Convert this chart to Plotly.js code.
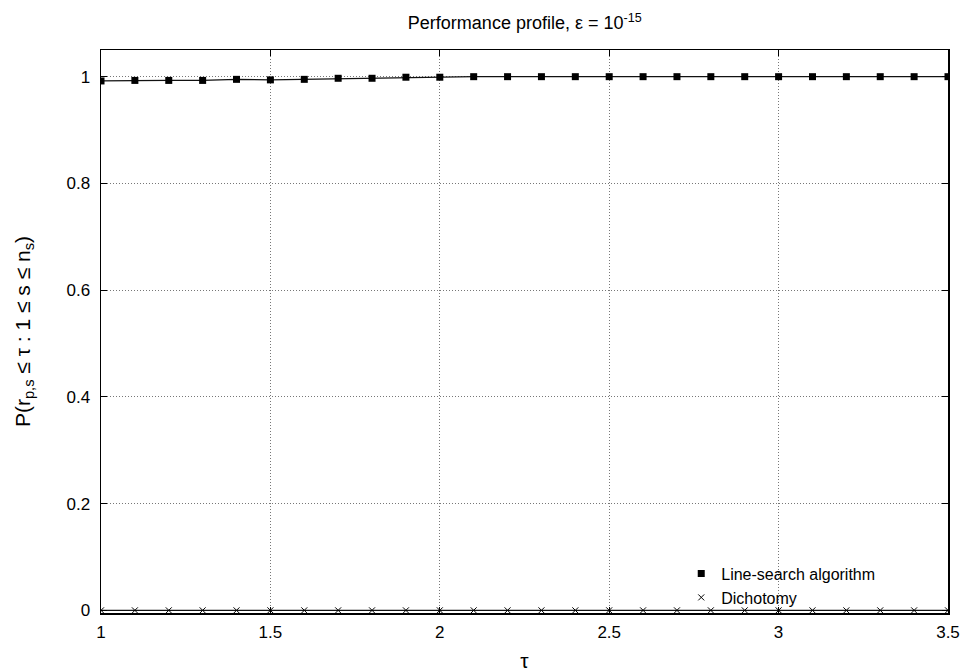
<!DOCTYPE html>
<html>
<head>
<meta charset="utf-8">
<script src="https://cdn.plot.ly/plotly-3.0.1.min.js"></script>
<style>
  html, body { margin: 0; padding: 0; background: #fff; }
  #chart { width: 970px; height: 672px; }
</style>
</head>
<body>
<div id="chart"></div>
<script>
// Performance profile values, sampled at tau = 1.0, 1.1, ..., 3.5
const tau = [1.0, 1.1, 1.2, 1.3, 1.4, 1.5, 1.6, 1.7, 1.8, 1.9, 2.0, 2.1, 2.2,
             2.3, 2.4, 2.5, 2.6, 2.7, 2.8, 2.9, 3.0, 3.1, 3.2, 3.3, 3.4, 3.5];
const lineSearch = [0.992, 0.993, 0.993, 0.993, 0.995, 0.994, 0.995, 0.997, 0.997,
                    0.999, 0.999, 1, 1, 1, 1, 1, 1, 1, 1, 1, 1, 1, 1, 1, 1, 1];
const dichotomy = [0, 0, 0, 0, 0, 0, 0, 0, 0, 0, 0, 0, 0,
                   0, 0, 0, 0, 0, 0, 0, 0, 0, 0, 0, 0, 0];
const seriesNames = ['Line-search algorithm', 'Dichotomy'];
const xTicks = [1, 1.5, 2, 2.5, 3, 3.5];
const yTicks = [0, 0.2, 0.4, 0.6, 0.8, 1];

const FONT = 'Liberation Sans, Arial, Helvetica, sans-serif';

// Each series: a connecting line (kept out of the key) plus its point markers.
const traces = [
  {
    x: tau, y: lineSearch, type: 'scatter', mode: 'lines', showlegend: false,
    hoverinfo: 'skip', line: {color: '#111', width: 1.2}
  },
  {
    x: tau, y: dichotomy, type: 'scatter', mode: 'lines', showlegend: false,
    hoverinfo: 'skip', line: {color: '#111', width: 1.2}
  },
  {
    x: tau, y: lineSearch, name: seriesNames[0],
    type: 'scatter', mode: 'markers',
    marker: {symbol: 'square', size: 7, color: '#000'}
  },
  {
    x: tau, y: dichotomy, name: seriesNames[1],
    type: 'scatter', mode: 'markers',
    marker: {symbol: 'x-thin', size: 6, color: '#000', line: {color: '#000', width: 1}}
  }
];

const axisCommon = {
  showline: true, mirror: 'ticks', linecolor: '#000', linewidth: 1.5,
  ticks: 'inside', ticklen: 6, tickcolor: '#000', tickwidth: 1,
  showgrid: true, gridcolor: '#777', griddash: '1px,2px', gridwidth: 1,
  zeroline: false,
  tickfont: {family: FONT, size: 17, color: '#000'}
};

const layout = {
  width: 970, height: 672,
  margin: {l: 101, r: 22, t: 50, b: 59},
  paper_bgcolor: '#fff', plot_bgcolor: '#fff',
  font: {family: FONT, color: '#000'},
  title: {
    text: 'Performance profile, ε = 10<sup>-15</sup>',
    font: {family: FONT, size: 18, color: '#000'},
    x: 0.541, xanchor: 'center', y: 0.966, yanchor: 'middle'
  },
  xaxis: Object.assign({}, axisCommon, {
    range: [1, 3.5], tickvals: xTicks, ticktext: xTicks.map(String),
    ticklabelstandoff: 3,
    title: {text: 'τ', font: {family: FONT, size: 21, color: '#000'}, standoff: 18}
  }),
  yaxis: Object.assign({}, axisCommon, {
    range: [-0.005, 1.05], tickvals: yTicks, ticktext: yTicks.map(String),
    ticklabelstandoff: 6,
    title: {text: 'P(r<sub>p,s</sub> ≤ τ : 1 ≤ s ≤ n<sub>s</sub>)',
            font: {family: FONT, size: 21, color: '#000'}, standoff: 30}
  }),
  showlegend: true,
  legend: {
    x: 0.92, xanchor: 'right', y: 0.1, yanchor: 'top',
    bgcolor: 'rgba(0,0,0,0)', borderwidth: 0,
    font: {family: FONT, size: 16, color: '#000'},
    tracegroupgap: 0, itemwidth: 30
  }
};

Plotly.newPlot('chart', traces, layout, {displayModeBar: false, staticPlot: true});
</script>
</body>
</html>
